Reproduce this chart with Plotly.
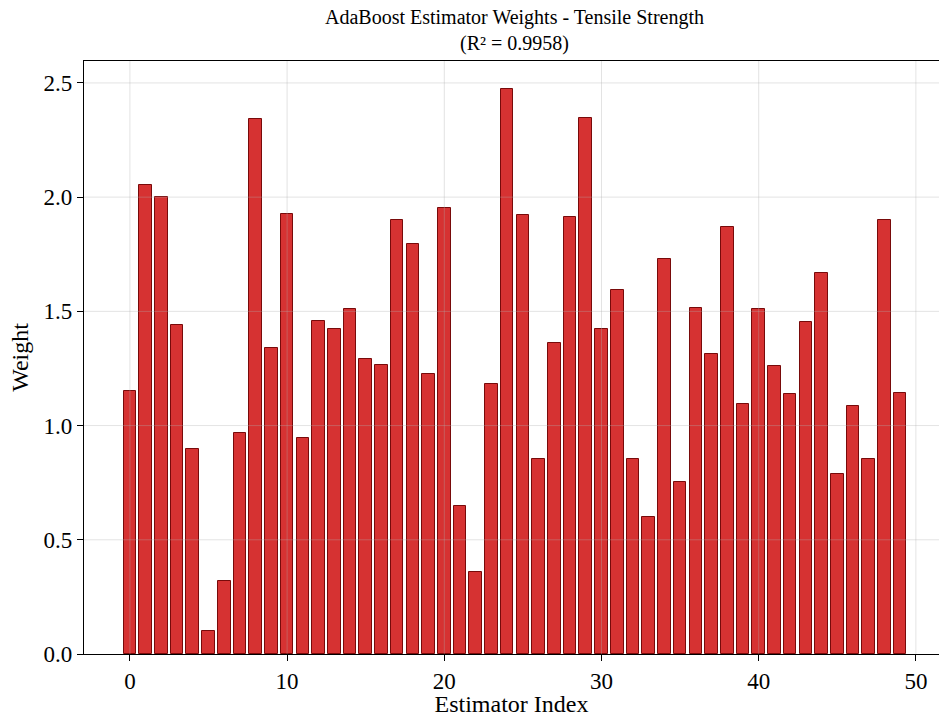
import plotly.graph_objects as go

# ---- data ----
estimator_index = list(range(50))
weights = [
    1.153, 2.054, 2.001, 1.439, 0.898, 0.102, 0.321, 0.969, 2.341, 1.341,
    1.926, 0.946, 1.459, 1.423, 1.509, 1.292, 1.267, 1.902, 1.796, 1.227,
    1.952, 0.650, 0.359, 1.184, 2.475, 1.920, 0.854, 1.362, 1.914, 2.347,
    1.423, 1.595, 0.854, 0.601, 1.730, 0.752, 1.515, 1.313, 1.871, 1.095,
    1.510, 1.261, 1.137, 1.455, 1.666, 0.790, 1.087, 0.854, 1.902, 1.141,
]
x_ticks = [0, 10, 20, 30, 40, 50]
y_ticks = [0.0, 0.5, 1.0, 1.5, 2.0, 2.5]
title_text = "AdaBoost Estimator Weights - Tensile Strength<br>(R² = 0.9958)"

FONT = "Liberation Serif, Times New Roman, serif"
GRID = "rgba(176,176,176,0.35)"

fig = go.Figure()
fig.add_trace(go.Bar(
    x=estimator_index, y=weights, width=0.8,
    marker=dict(color="rgb(214,50,50)", line=dict(color="rgb(120,10,10)", width=1)),
    showlegend=False,
))

shapes = []
for xv in x_ticks:
    shapes.append(dict(type="line", xref="x", yref="paper", x0=xv, x1=xv, y0=0, y1=1,
                       line=dict(color=GRID, width=1), layer="above"))
for yv in y_ticks[1:]:
    shapes.append(dict(type="line", xref="paper", yref="y", x0=0, x1=1, y0=yv, y1=yv,
                       line=dict(color=GRID, width=1), layer="above"))

fig.update_layout(
    width=939, height=717,
    margin=dict(l=84, r=0, t=61, b=63),
    paper_bgcolor="white", plot_bgcolor="white",
    font=dict(family=FONT, color="black"),
    shapes=shapes,
    bargap=0,
    annotations=[dict(
        text=title_text, xref="paper", x=0.5035, xanchor="center",
        yref="paper", y=1, yanchor="bottom", yshift=4, showarrow=False,
        font=dict(family=FONT, size=20, color="black"), align="center",
    )],
)
fig.update_xaxes(
    range=[-2.92, 51.47], tickvals=x_ticks, ticks="outside", ticklen=6, tickwidth=1,
    tickcolor="black", showline=True, linecolor="black", linewidth=1.3, mirror=True,
    showgrid=False, zeroline=False, tickfont=dict(size=23, family=FONT),
    title=dict(text="Estimator Index", font=dict(size=24, family=FONT), standoff=6),
)
fig.update_yaxes(
    range=[0, 2.596], tickvals=y_ticks, tickformat=".1f", ticks="outside", ticklen=6,
    tickwidth=1, tickcolor="black", showline=True, linecolor="black", linewidth=1.3,
    showgrid=False, zeroline=False, tickfont=dict(size=23, family=FONT),
    title=dict(text="Weight", font=dict(size=24, family=FONT), standoff=8),
)

fig.write_html("out.html")
